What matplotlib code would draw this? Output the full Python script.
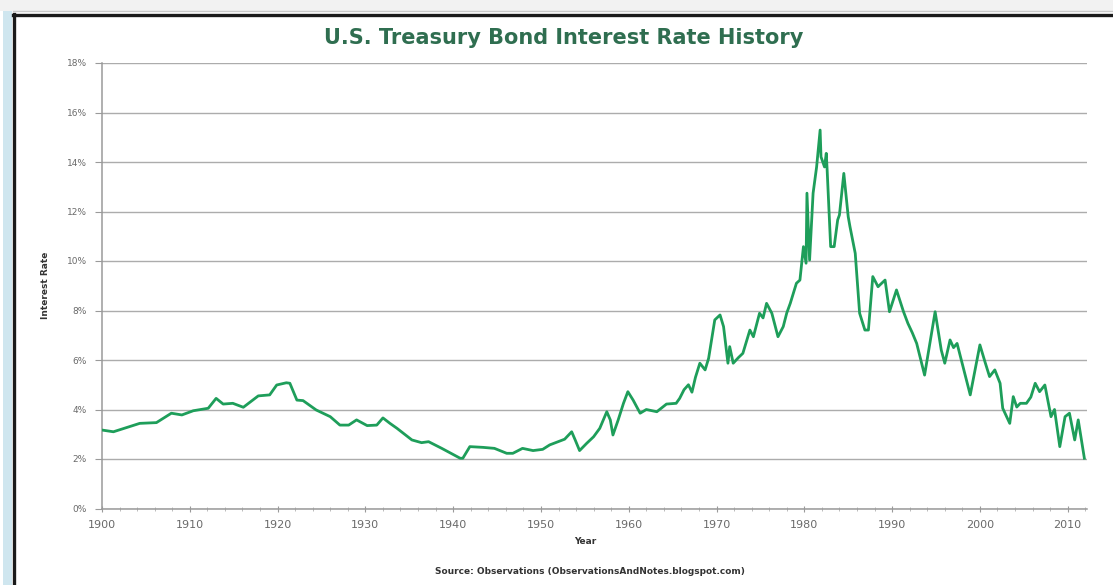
import matplotlib
matplotlib.use("Agg")
import matplotlib.pyplot as plt
from matplotlib.patches import Rectangle
from matplotlib.lines import Line2D
from matplotlib.ticker import MultipleLocator, FuncFormatter

# ---- data (year, interest rate %) ----
years = [1900.0, 1901.3, 1904.3, 1906.2, 1907.9, 1909.1, 1910.4, 1912.1, 1913.0, 1913.8,
         1914.9, 1916.1, 1917.8, 1919.1, 1919.9, 1921.0, 1921.4, 1922.2, 1922.9, 1924.4,
         1926.0, 1927.1, 1928.1, 1929.0, 1930.2, 1931.3, 1932.0, 1932.8, 1933.6, 1935.3,
         1936.4, 1937.2, 1938.7, 1940.8, 1941.1, 1941.9, 1943.4, 1944.7, 1946.1, 1946.8,
         1947.9, 1949.1, 1950.2, 1951.0, 1952.7, 1953.5, 1953.9, 1954.4, 1955.2, 1956.0,
         1956.7, 1957.5, 1957.9, 1958.2, 1958.8, 1959.4, 1959.9, 1960.5, 1961.3, 1962.0,
         1963.2, 1964.3, 1965.4, 1965.8, 1966.3, 1966.8, 1967.2, 1967.6, 1968.1, 1968.7,
         1969.1, 1969.8, 1970.4, 1970.8, 1971.3, 1971.5, 1971.9, 1972.5, 1973.0, 1973.8,
         1974.2, 1974.9, 1975.3, 1975.7, 1976.3, 1977.0, 1977.6, 1978.0, 1978.4, 1979.1,
         1979.5, 1979.9, 1980.2, 1980.3, 1980.6, 1981.0, 1981.4, 1981.8, 1981.9, 1982.3,
         1982.5, 1982.6, 1983.0, 1983.4, 1983.8, 1984.0, 1984.5, 1985.0, 1985.2, 1985.8,
         1986.3, 1986.9, 1987.3, 1987.8, 1988.4, 1988.6, 1989.2, 1989.7, 1990.5, 1991.3,
         1991.8, 1992.3, 1992.8, 1993.7, 1994.9, 1995.6, 1996.0, 1996.6, 1997.0, 1997.4,
         1998.9, 2000.0, 2000.6, 2001.1, 2001.7, 2002.3, 2002.6, 2003.4, 2003.8, 2004.2,
         2004.6, 2005.3, 2005.8, 2006.3, 2006.8, 2007.4, 2008.1, 2008.5, 2009.1, 2009.7,
         2010.2, 2010.8, 2011.2, 2011.9]
rates = [3.17, 3.10, 3.44, 3.47, 3.85, 3.78, 3.95, 4.05, 4.45, 4.22,
         4.25, 4.09, 4.55, 4.59, 4.99, 5.08, 5.06, 4.38, 4.36, 3.98,
         3.71, 3.37, 3.37, 3.58, 3.35, 3.37, 3.66, 3.44, 3.24, 2.77,
         2.66, 2.70, 2.43, 2.03, 2.03, 2.50, 2.47, 2.43, 2.23, 2.23,
         2.43, 2.34, 2.39, 2.57, 2.80, 3.10, 2.77, 2.34, 2.63, 2.90,
         3.24, 3.91, 3.58, 2.97, 3.58, 4.25, 4.72, 4.38, 3.85, 4.00,
         3.91, 4.22, 4.25, 4.45, 4.80, 5.00, 4.70, 5.30, 5.87, 5.60,
         6.07, 7.62, 7.82, 7.35, 5.87, 6.54, 5.87, 6.10, 6.27, 7.21,
         6.94, 7.89, 7.70, 8.29, 7.89, 6.94, 7.35, 7.90, 8.29, 9.10,
         9.23, 10.58, 9.91, 12.74, 10.04, 12.74, 13.80, 15.29, 14.21, 13.80,
         14.35, 13.68, 10.58, 10.58, 11.66, 11.86, 13.54, 11.79, 11.39, 10.31,
         7.89, 7.21, 7.21, 9.37, 8.96, 9.03, 9.23, 7.95, 8.83, 7.95,
         7.48, 7.10, 6.67, 5.39, 7.95, 6.40, 5.87, 6.81, 6.50, 6.67,
         4.59, 6.61, 5.90, 5.33, 5.60, 5.06, 4.05, 3.44, 4.52, 4.10,
         4.25, 4.25, 4.50, 5.06, 4.72, 4.99, 3.71, 4.00, 2.50, 3.71,
         3.85, 2.77, 3.58, 2.03]

title = "U.S. Treasury Bond Interest Rate History"
x_label = "Year"
y_label = "Interest Rate"
source = "Source: Observations (ObservationsAndNotes.blogspot.com)"

W, H = 1113, 585
fig = plt.figure(figsize=(W / 100, H / 100), dpi=100)
fig.patch.set_facecolor("white")

# ---- frame decorations (screenshot border) ----
def fx(px):
    return px / W

def fy(py):
    return 1 - py / H

fig.patches.append(Rectangle((0, fy(11)), 1, 11 / H, transform=fig.transFigure,
                             facecolor="#f2f2f2", edgecolor="none", zorder=0))
fig.patches.append(Rectangle((fx(3), 0), 9 / W, fy(11), transform=fig.transFigure,
                             facecolor="#cfe6ef", edgecolor="none", zorder=0))
fig.lines.append(Line2D([fx(14), fx(14)], [0, fy(14)], transform=fig.transFigure,
                        color="#1a1a1a", lw=2.4))
fig.lines.append(Line2D([fx(13), 1], [fy(15), fy(15)], transform=fig.transFigure,
                        color="#1a1a1a", lw=2.4))
fig.lines.append(Line2D([fx(13), 1], [fy(11), fy(11)], transform=fig.transFigure,
                        color="#c8c8c8", lw=1.0))

# ---- axes ----
left, right, top, bottom = 102, 1087, 63, 508.5
ax = fig.add_axes([fx(left), fy(bottom), (right - left) / W, (bottom - top) / H])
ax.set_facecolor("white")

ax.plot(years, rates, color="#1e9e5a", lw=2.0, solid_joinstyle="round", zorder=3)

ax.set_xlim(1900, 2012.2)
ax.set_ylim(0, 18)
ax.yaxis.set_major_locator(MultipleLocator(2))
ax.yaxis.set_major_formatter(FuncFormatter(lambda v, p: f"{int(round(v))}%"))
ax.xaxis.set_major_locator(MultipleLocator(10))
ax.xaxis.set_minor_locator(MultipleLocator(2))

ax.grid(axis="y", color="#acacac", lw=1.0, zorder=1)
for s in ("top", "right"):
    ax.spines[s].set_visible(False)
for s in ("left", "bottom"):
    ax.spines[s].set_color("#9a9a9a")
    ax.spines[s].set_linewidth(1.1)

ax.tick_params(axis="y", which="major", length=5, color="#9a9a9a", labelsize=6.5,
               labelcolor="#6a6a6a", pad=6)
ax.tick_params(axis="x", which="major", length=4, direction="inout", color="#9a9a9a",
               labelsize=8, labelcolor="#6a6a6a", pad=6)
ax.tick_params(axis="x", which="minor", length=3, direction="inout", color="#b0b0b0")

fig.text(fx(45), fy(285), y_label, rotation=90, ha="center", va="center",
         fontsize=6.5, fontweight="bold", color="#333333")
fig.text(fx(585), fy(541), x_label, ha="center", va="center",
         fontsize=6.5, fontweight="bold", color="#333333")
fig.text(fx(590), fy(572), source, ha="center", va="center",
         fontsize=6.5, fontweight="bold", color="#333333")
fig.text(fx(564), fy(38), title, ha="center", va="center",
         fontsize=15, fontweight="bold", color="#2f6e50")

fig.savefig("out.png", dpi=100, facecolor=fig.get_facecolor())
